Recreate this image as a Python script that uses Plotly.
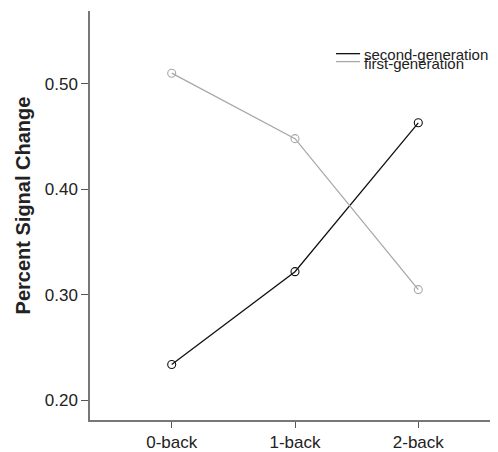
import plotly.graph_objects as go

categories = ["0-back", "1-back", "2-back"]
second_generation = [0.234, 0.322, 0.463]
first_generation = [0.510, 0.448, 0.305]
series_names = ["second-generation", "first-generation"]
series_colors = ["#111111", "#a8a8a8"]
y_ticks = [0.20, 0.30, 0.40, 0.50]
y_tick_labels = ["0.20", "0.30", "0.40", "0.50"]
y_title = "Percent Signal Change"

FONT = "Liberation Sans, Arial, Helvetica, sans-serif"

fig = go.Figure()
x_idx = list(range(len(categories)))
for name, vals, col in zip(series_names, [second_generation, first_generation], series_colors):
    fig.add_trace(go.Scatter(
        x=x_idx, y=vals, mode="lines+markers", name=name,
        line=dict(color=col, width=1.3),
        marker=dict(symbol="circle-open", size=8, color=col, line=dict(width=1.1, color=col)),
        showlegend=False,
    ))

# page body has an 8px default margin, so the figure is sized/offset to compensate
fig.update_layout(
    width=490, height=444,
    margin=dict(l=82, r=0, t=3, b=21),
    paper_bgcolor="white", plot_bgcolor="white",
    font=dict(family=FONT, color="#222222"),
)
fig.update_xaxes(
    range=[-0.6626, 2.6464], tickvals=x_idx, ticktext=categories,
    showgrid=False, zeroline=False, showline=True, linecolor="#777777", linewidth=1.5,
    ticks="outside", ticklen=6, tickcolor="#555555", tickwidth=1,
    tickfont=dict(size=17, family=FONT, color="#222222"),
)
fig.update_yaxes(
    range=[0.1815, 0.5689], tickvals=y_ticks, ticktext=y_tick_labels,
    showgrid=False, zeroline=False, showline=True, linecolor="#777777", linewidth=1.5,
    ticks="outside", ticklen=7, tickcolor="#555555", tickwidth=1,
    tickfont=dict(size=17, family=FONT, color="#222222"),
)

# axis title
fig.add_annotation(
    xref="paper", yref="paper", x=-0.1654, y=0.5234, text="<b>" + y_title + "</b>",
    textangle=-90, showarrow=False, xanchor="center", yanchor="middle",
    font=dict(size=20, family=FONT, color="#222222"),
)

# legend (compact, overlapping style as in reference)
leg_y_lines = [0.8957, 0.8763]
leg_y_text = [0.8945, 0.8705]
for name, col, yl, yt in zip(series_names, series_colors, leg_y_lines, leg_y_text):
    fig.add_shape(type="line", xref="paper", yref="paper", x0=0.603, x1=0.662, y0=yl, y1=yl,
                  line=dict(color=col, width=1.3))
    fig.add_annotation(xref="paper", yref="paper", x=0.666, y=yt, text=name, showarrow=False,
                       xanchor="left", yanchor="middle",
                       font=dict(size=15, family=FONT, color="#222222"))

fig.write_html("out.html")
